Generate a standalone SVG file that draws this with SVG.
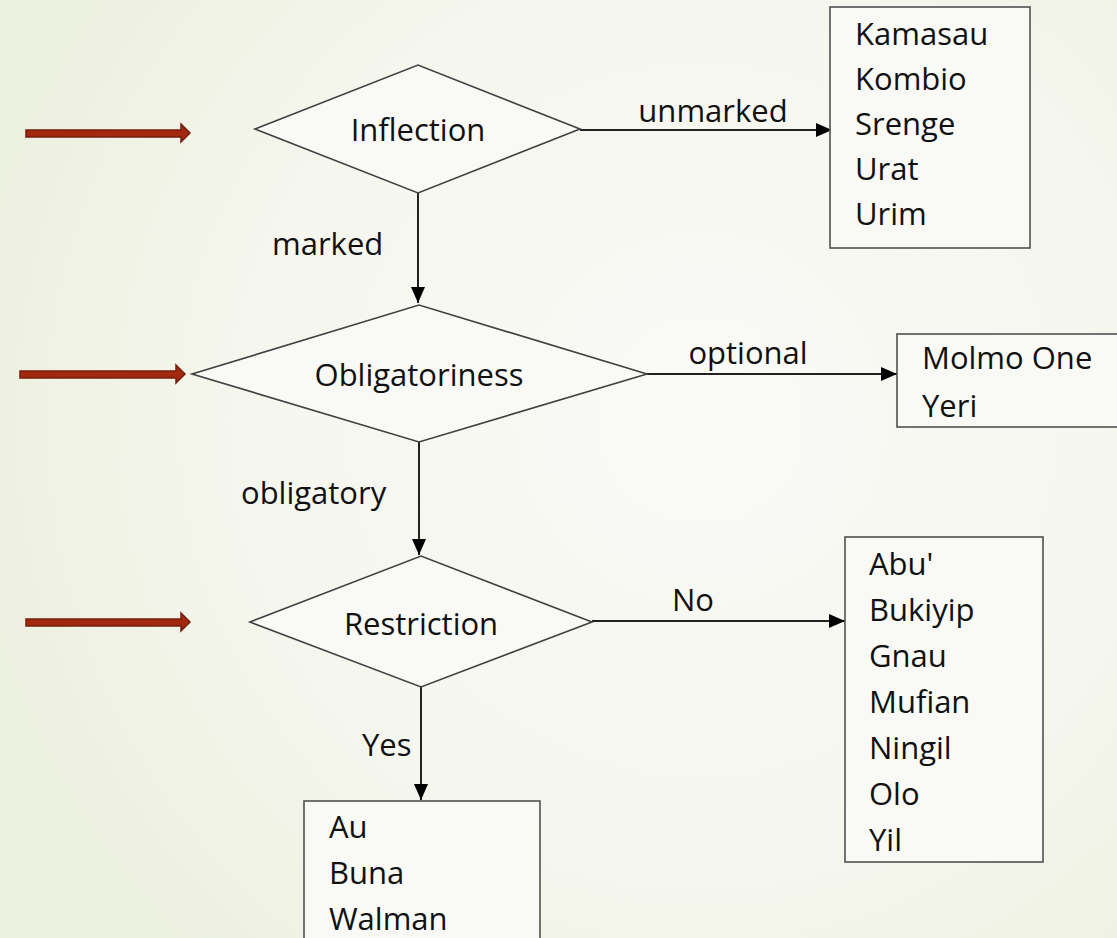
<svg xmlns="http://www.w3.org/2000/svg" width="1117" height="938" viewBox="0 0 1117 938">
<defs>
<radialGradient id="bg" cx="700" cy="420" r="750" gradientUnits="userSpaceOnUse">
<stop offset="0" stop-color="#fafaf7"/>
<stop offset="0.6" stop-color="#f5f6ee"/>
<stop offset="1" stop-color="#ecf0df"/>
</radialGradient>
<marker id="ah" markerWidth="16" markerHeight="14" refX="16" refY="7" orient="auto" markerUnits="userSpaceOnUse">
<path d="M0,0 L16,7 L0,14 Z" fill="#000"/>
</marker>
<style>
.sh{fill:#f9faf6;stroke:#404040;stroke-width:1.6}
.bx{fill:#f9faf6;stroke:#505050;stroke-width:1.6}
.t{font-family:"Open Sans","Noto Sans",sans-serif;font-size:31px;fill:#111}
.c{text-anchor:middle}
.cn{stroke:#222;stroke-width:2;fill:none;marker-end:url(#ah)}
.ra{fill:#a3290e;stroke:#761e0d;stroke-width:1.5}
</style>
</defs>
<rect width="1117" height="938" fill="url(#bg)"/>

<g id="pointers">
<polygon class="ra" points="26,130 181,130 181,124 190,133 181,142 181,137 26,137"/>
<polygon class="ra" points="20,371 176,371 176,365 185,374 176,383 176,378 20,378"/>
<polygon class="ra" points="26,619 181,619 181,613 190,622 181,631 181,626 26,626"/>
</g>

<g id="connectors">
<line class="cn" x1="580" y1="130" x2="832" y2="130"/>
<line class="cn" x1="418" y1="193" x2="418" y2="303"/>
<line class="cn" x1="647" y1="374" x2="897" y2="374"/>
<line class="cn" x1="419" y1="442" x2="419" y2="555"/>
<line class="cn" x1="592" y1="621" x2="845" y2="621"/>
<line class="cn" x1="421" y1="687" x2="421" y2="800"/>
<text class="t c" x="713" y="122">unmarked</text>
<text class="t" x="272" y="255">marked</text>
<text class="t c" x="748" y="364">optional</text>
<text class="t" x="241" y="504">obligatory</text>
<text class="t c" x="693" y="611">No</text>
<text class="t" x="362" y="756">Yes</text>
</g>

<g id="inflection">
<polygon class="sh" points="255,129 418,65 580,129 418,193"/>
<text class="t c" x="418" y="141">Inflection</text>
</g>

<g id="obligatoriness">
<polygon class="sh" points="192,374 419,305 647,374 419,442"/>
<text class="t c" x="419" y="386">Obligatoriness</text>
</g>

<g id="restriction">
<polygon class="sh" points="250,622 421,556 592,622 421,687"/>
<text class="t c" x="421" y="635">Restriction</text>
</g>

<g id="box-unmarked">
<rect class="bx" x="830" y="7" width="200" height="241"/>
<text class="t" x="855" y="45">Kamasau</text>
<text class="t" x="855" y="90">Kombio</text>
<text class="t" x="855" y="135">Srenge</text>
<text class="t" x="855" y="180">Urat</text>
<text class="t" x="855" y="225">Urim</text>
</g>

<g id="box-optional">
<rect class="bx" x="897" y="334" width="230" height="93"/>
<text class="t" x="922" y="369">Molmo One</text>
<text class="t" x="922" y="417">Yeri</text>
</g>

<g id="box-no">
<rect class="bx" x="845" y="537" width="198" height="325"/>
<text class="t" x="869" y="575">Abu'</text>
<text class="t" x="869" y="621">Bukiyip</text>
<text class="t" x="869" y="667">Gnau</text>
<text class="t" x="869" y="713">Mufian</text>
<text class="t" x="869" y="759">Ningil</text>
<text class="t" x="869" y="805">Olo</text>
<text class="t" x="869" y="851">Yil</text>
</g>

<g id="box-yes">
<rect class="bx" x="304" y="801" width="236" height="150"/>
<text class="t" x="329" y="838">Au</text>
<text class="t" x="329" y="884">Buna</text>
<text class="t" x="329" y="930">Walman</text>
</g>
</svg>
